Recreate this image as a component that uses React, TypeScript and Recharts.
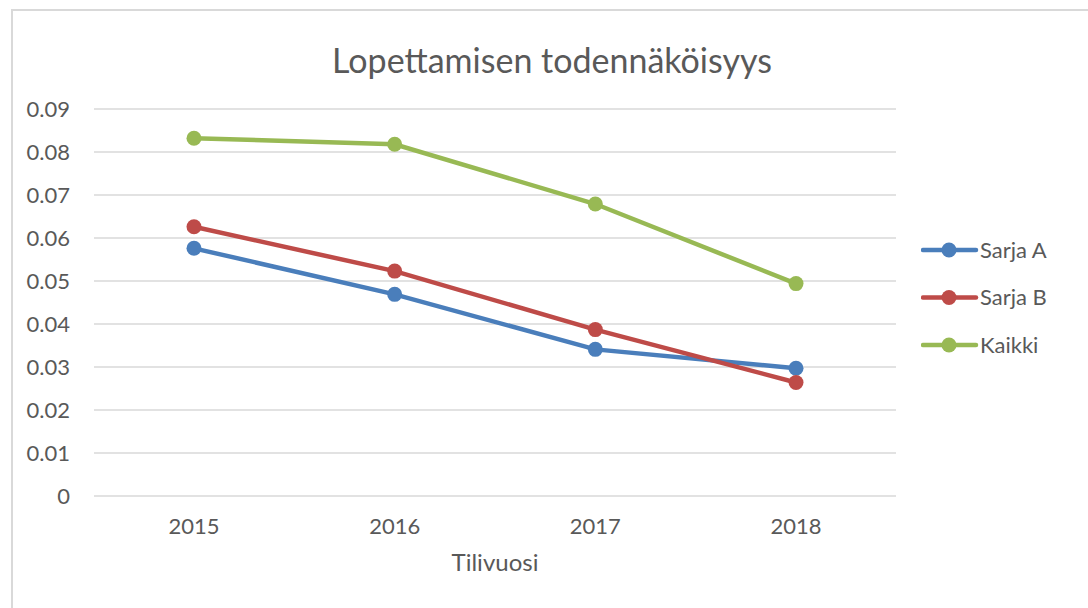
import React from "react";
import { LineChart, Line, XAxis, YAxis, CartesianGrid, Legend } from "recharts";

const years = ["2015", "2016", "2017", "2018"];
const sarjaA = [0.0576, 0.0469, 0.0341, 0.0297];
const sarjaB = [0.0626, 0.0523, 0.0387, 0.0264];
const kaikki = [0.0832, 0.0818, 0.0679, 0.0494];
const yTicks = [0, 0.01, 0.02, 0.03, 0.04, 0.05, 0.06, 0.07, 0.08, 0.09];
const yTickLabels = ["0", "0.01", "0.02", "0.03", "0.04", "0.05", "0.06", "0.07", "0.08", "0.09"];

const seriesDefs = [
  { key: "sarjaA", name: "Sarja A", color: "#4a7ebb" },
  { key: "sarjaB", name: "Sarja B", color: "#be4b48" },
  { key: "kaikki", name: "Kaikki", color: "#98b954" },
];

const data = years.map((y, i) => ({
  year: y,
  sarjaA: sarjaA[i],
  sarjaB: sarjaB[i],
  kaikki: kaikki[i],
}));

const FONT = "Lato, 'Open Sans', sans-serif";
const TEXT = "#595959";

const LegendContent = () => (
  <svg width={160} height={150}>
    {seriesDefs.map((s, i) => {
      const cy = 14 + i * 47.5;
      return (
        <g key={s.key}>
          <line x1={2} x2={55} y1={cy} y2={cy} stroke={s.color} strokeWidth={4.5} strokeLinecap="round" />
          <circle cx={28} cy={cy} r={7.5} fill={s.color} />
          <text x={59} y={cy} dy="0.36em" fontFamily={FONT} fontSize={22} fill={TEXT}>
            {s.name}
          </text>
        </g>
      );
    })}
  </svg>
);

export default function App() {
  return (
    <div style={{ position: "absolute", left: 0, top: 0, width: 1088, height: 608, overflow: "hidden", background: "#fff" }}>
      <div
        style={{
          position: "absolute",
          left: 11,
          top: 9,
          width: 1100,
          height: 700,
          border: "2px solid #d9d9d9",
          boxSizing: "border-box",
        }}
      />
      <div
        style={{
          position: "absolute",
          left: 11,
          top: 43,
          width: 1082,
          textAlign: "center",
          fontFamily: FONT,
          fontSize: 34,
          lineHeight: "34px",
          color: TEXT,
        }}
      >
        Lopettamisen todennäköisyys
      </div>
      <div style={{ position: "absolute", left: 0, top: 0 }}>
        <LineChart
          width={1088}
          height={608}
          data={data}
          margin={{ top: 109, right: 192, left: 34, bottom: 0 }}
        >
          <CartesianGrid vertical={false} stroke="#d9d9d9" strokeWidth={1.5} />
          <XAxis
            dataKey="year"
            height={112}
            axisLine={false}
            tickLine={false}
            tickSize={0}
            tickMargin={22}
            interval={0}
            padding={{ left: 100, right: 100 }}
            tick={{ fill: TEXT, fontSize: 22, fontFamily: FONT }}
            label={{ value: "Tilivuosi", position: "insideTop", offset: 58, fill: TEXT, fontSize: 24, fontFamily: FONT }}
          />
          <YAxis
            width={60}
            domain={[0, 0.09]}
            ticks={yTicks}
            interval={0}
            tickFormatter={(v: number) => yTickLabels[yTicks.indexOf(v)] ?? String(v)}
            axisLine={false}
            tickLine={false}
            tickSize={0}
            tickMargin={24}
            tick={{ fill: TEXT, fontSize: 22, fontFamily: FONT }}
          />
          <Legend
            layout="horizontal"
            verticalAlign="middle"
            align="center"
            content={<LegendContent />}
            wrapperStyle={{ position: "absolute", left: 921, top: 236, width: 160, height: 150 }}
          />
          {seriesDefs.map((s) => (
            <Line
              key={s.key}
              type="linear"
              dataKey={s.key}
              name={s.name}
              stroke={s.color}
              strokeWidth={4.5}
              dot={{ r: 7.5, fill: s.color, stroke: s.color, strokeWidth: 0 }}
              activeDot={false}
              isAnimationActive={false}
            />
          ))}
        </LineChart>
      </div>
    </div>
  );
}
